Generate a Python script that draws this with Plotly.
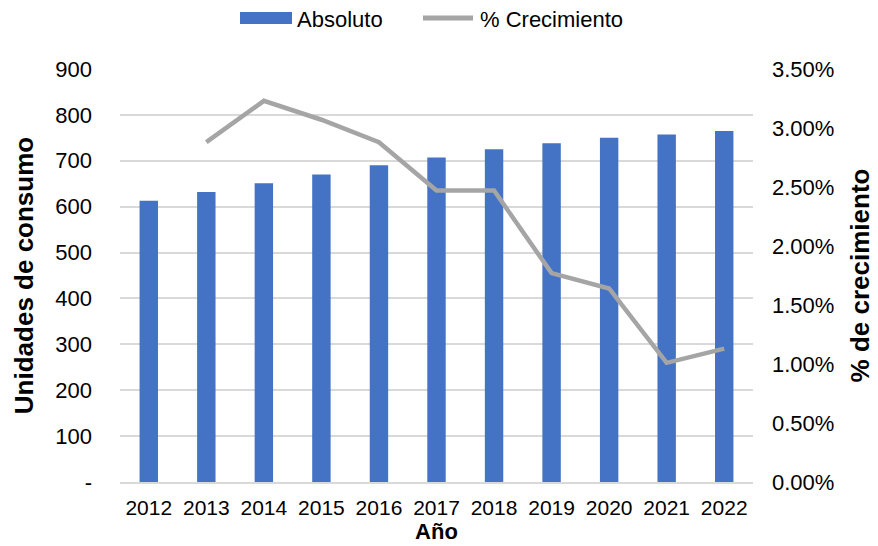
import plotly.graph_objects as go

years = ["2012", "2013", "2014", "2015", "2016", "2017", "2018", "2019", "2020", "2021", "2022"]
absoluto = [613, 632, 651, 670, 690, 707, 725, 738, 750, 757, 765]
crecimiento = [None, 0.0288, 0.0323, 0.0307, 0.0288, 0.0247, 0.0247, 0.0177, 0.0164, 0.0101, 0.0113]
left_ticks = [0, 100, 200, 300, 400, 500, 600, 700, 800, 900]
left_labels = ["-", "100", "200", "300", "400", "500", "600", "700", "800", "900"]
right_ticks = [0, 0.005, 0.01, 0.015, 0.02, 0.025, 0.03, 0.035]
series_names = ["Absoluto", "% Crecimiento"]

font = "Liberation Sans, Arial, sans-serif"
bar_color = "#4472c4"
line_color = "#a5a5a5"

# page body has an 8px margin, so the figure is drawn 8px smaller and all offsets shift by 8
OFF = 8
W, H = 878 - OFF, 546 - OFF
L, T = 120 - OFF, 69 - OFF
R = W - (753 - OFF)
B = H - (482 - OFF)
pw, ph = W - L - R, H - T - B


def px(x):
    return (x - OFF - L) / pw


def py(y):
    return (H - B - (y - OFF)) / ph


fig = go.Figure()
fig.add_trace(go.Bar(x=years, y=absoluto, name=series_names[0], marker=dict(color=bar_color, line=dict(width=0)),
                     width=0.32, yaxis="y", showlegend=False))
fig.add_trace(go.Scatter(x=years, y=crecimiento, name=series_names[1], mode="lines",
                         line=dict(color=line_color, width=4.5), yaxis="y2", connectgaps=False,
                         showlegend=False))

# custom legend (wide swatches as in the reference)
shapes = [
    dict(type="rect", xref="paper", yref="paper", x0=px(240), x1=px(292), y0=py(24), y1=py(12),
         fillcolor=bar_color, line=dict(width=0)),
    dict(type="line", xref="paper", yref="paper", x0=px(423), x1=px(473), y0=py(18), y1=py(18),
         line=dict(color=line_color, width=5)),
]
annotations = [
    dict(text=series_names[0], xref="paper", yref="paper", x=px(295), y=py(19), xanchor="left",
         yanchor="middle", showarrow=False, font=dict(size=22, family=font, color="#000")),
    dict(text=series_names[1], xref="paper", yref="paper", x=px(478), y=py(19), xanchor="left",
         yanchor="middle", showarrow=False, font=dict(size=22, family=font, color="#000")),
]

fig.update_layout(
    width=W, height=H,
    margin=dict(l=L, r=R, t=T, b=B, autoexpand=False),
    paper_bgcolor="white", plot_bgcolor="white",
    font=dict(family=font, color="#000000", size=22),
    showlegend=False,
    shapes=shapes, annotations=annotations,
    xaxis=dict(type="category", showgrid=False, showline=True, linecolor="#d9d9d9", linewidth=1.5,
               ticks="", tickfont=dict(size=21), ticklabelstandoff=6, automargin=False,
               title=dict(text="<b>Año</b>", font=dict(size=22), standoff=6)),
    yaxis=dict(range=[0, 900], tickvals=left_ticks, ticktext=left_labels, showgrid=True,
               gridcolor="#d9d9d9", gridwidth=1.5, zeroline=False, showline=False, ticks="",
               ticklabelstandoff=27, automargin=False, tickfont=dict(size=22),
               title=dict(text="<b>Unidades de consumo</b>", font=dict(size=26), standoff=14)),
    yaxis2=dict(range=[0, 0.035], tickvals=right_ticks, tickformat=".2%", overlaying="y", side="right",
                showgrid=False, zeroline=False, showline=False, ticks="", ticklabelstandoff=18,
                automargin=False, tickfont=dict(size=22),
                title=dict(text="<b>% de crecimiento</b>", font=dict(size=26), standoff=17)),
)

fig.write_html("out.html")
